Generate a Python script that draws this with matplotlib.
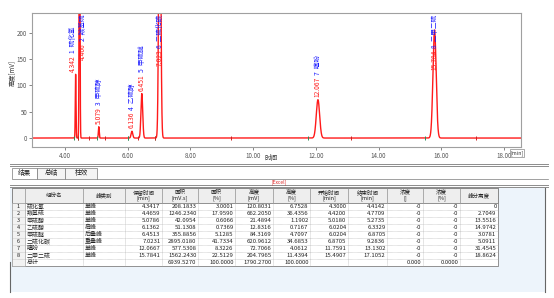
"""
plot.py

Chromatogram with peak labels and the peak result table below it.
"""

import numpy as np
import matplotlib
matplotlib.use("Agg")
import matplotlib.pyplot as plt
from matplotlib.patches import Rectangle

plt.rcParams['font.family'] = ['Noto Sans CJK SC', 'DejaVu Sans']

# peak table (as printed in the result grid)
names = ['硫化氢', '羰基硫', '甲硫醇', '乙硫醇', '甲硫醚', '二硫化碳', '噻吩', '二甲二硫']
peak_types = ['单峰', '单峰', '单峰', '肩峰', '后叠峰', '重叠峰', '单峰', '单峰']
ret_time = [4.3417, 4.4659, 5.0786, 6.1362, 6.4513, 7.0231, 12.0667, 15.7841]
area = [208.1833, 1246.2340, 42.0954, 51.1308, 355.8856, 2895.0180, 577.5308, 1562.2430]
area_pct = [3.0001, 17.9590, 0.6066, 0.7369, 5.1285, 41.7334, 8.3226, 22.5129]
height = [120.8031, 662.2050, 21.4894, 12.8316, 84.3169, 620.9612, 72.7066, 204.7965]
height_pct = [6.7528, 36.4356, 1.1902, 0.7167, 4.7097, 34.6853, 4.0612, 11.4394]
t_start = [4.3000, 4.4200, 5.0180, 6.0204, 6.0204, 6.8705, 11.7591, 15.4907]
t_end = [4.4142, 4.7709, 5.2735, 6.3329, 6.8705, 9.2836, 13.1302, 17.1052]
conc = ['-0'] * 8
conc_pct = ['-0'] * 8
resolution = ['0', '2.7049', '13.5516', '14.9742', '3.0781', '5.0911', '31.4545', '18.8624']
# total row, from the 保留时间 column onwards
totals = ['', '6939.5270', '100.0000', '1790.2700', '100.0000',
          '', '', '0.000', '0.0000', '']

headers = ['', '组份名', '峰类别', '保留时间\n[min]', '面积\n[mV.s]', '面积\n[%]',
           '高度\n[mV]', '高度\n[%]', '开始时间\n[min]', '结束时间\n[min]',
           '浓度\n[]', '浓度\n[%]', '峰分离度']
tabs = ['结果', '总结', '柱效']

RED = '#ff1a1a'
BLUE = '#1a1aff'
GRID = '#a8a8a8'
W, H = 554, 298

fig = plt.figure(figsize=(W / 100, H / 100), dpi=100)

# pixel-space overlay for the window chrome and the table
ui = fig.add_axes([0, 0, 1, 1])
ui.set_xlim(0, W)
ui.set_ylim(H, 0)
ui.axis('off')

# ---- chromatogram ----
ax = fig.add_axes([32 / W, 1 - 147 / H, (521 - 32) / W, (147 - 13) / H])
xmin, xmax, ymin, ymax = 2.95, 18.54, -17, 237

t = np.linspace(xmin, xmax, 8000)
signal = np.zeros_like(t)
for rt, a, h in zip(ret_time, area, height):
    sigma = a / (h * 60 * np.sqrt(2 * np.pi))
    signal += h * np.exp(-0.5 * ((t - rt) / sigma) ** 2)
ax.plot(t, signal, color=RED, lw=1.0)

ax.plot(t_start, np.zeros(len(t_start)), ls='none', marker='|', ms=2.5,
        mew=0.7, color='#2e8b57')
ax.plot(t_end, np.zeros(len(t_end)), ls='none', marker='|', ms=2.5,
        mew=0.7, color='#cc2222')

ax.set_xlim(xmin, xmax)
ax.set_ylim(ymin, ymax)
ax.set_xticks(np.arange(4, 19, 2))
ax.set_xticklabels([f'{v:.2f}' for v in np.arange(4, 19, 2)])
ax.set_yticks(np.arange(0, 201, 50))
ax.tick_params(labelsize=4.5, length=2, width=0.5, colors='#555555', pad=1.5)
for s in ax.spines.values():
    s.set_color('#a0a0a0')
    s.set_linewidth(0.8)

# vertical peak labels: red retention time, blue index + name
fs = 4.8
n = len(ret_time)
for i, (rt, h, name) in enumerate(zip(ret_time, height, names)):
    num = f'{rt:.3f}'
    tag = f'{i + 1}  {name}'
    # push neighbouring labels apart when two peaks nearly coincide
    dx = 0.0
    if i + 1 < n and ret_time[i + 1] - rt < 0.2:
        dx -= 1.8
    if i > 0 and rt - ret_time[i - 1] < 0.2:
        dx += 2.2
    if h + 110 > ymax:
        top = ax.annotate(tag, xy=(rt, ymax), xytext=(dx, -1),
                          textcoords='offset points', rotation=90,
                          ha='center', va='top', color=BLUE, fontsize=fs)
        ax.annotate(num, xy=(0.5, 0), xycoords=top, xytext=(0, -1.5),
                    textcoords='offset points', rotation=90, ha='center',
                    va='top', color=RED, fontsize=fs)
    else:
        low = ax.annotate(num, xy=(rt, h), xytext=(dx, 2),
                          textcoords='offset points', rotation=90,
                          ha='center', va='bottom', color=RED, fontsize=fs)
        ax.annotate(tag, xy=(0.5, 1), xycoords=low, xytext=(0, 1.5),
                    textcoords='offset points', rotation=90, ha='center',
                    va='bottom', color=BLUE, fontsize=fs)

fig.text(12 / W, 1 - 73 / H, '高度[mV]', rotation=90, ha='center', va='center',
         fontsize=4.5, color='#333333')
fig.text(271 / W, 1 - 158 / H, '时间', ha='center', va='center',
         fontsize=4.8, color='#333333')
fig.text(517 / W, 1 - 153 / H, '[min]', ha='center', va='center', fontsize=3.8,
         color='#333333',
         bbox=dict(boxstyle='square,pad=0.15', fc='white', ec='#888888', lw=0.5))

# ---- result panel ----
for y in (164, 166):
    ui.plot([10, 548], [y, y], color='#8c8c8c', lw=0.7)

tab_edges = [12, 37, 65, 97]
for k, label in enumerate(tabs):
    x0, x1 = tab_edges[k], tab_edges[k + 1]
    ui.add_patch(Rectangle((x0, 168), x1 - x0, 11,
                           fc='white' if k == 0 else '#f4f4f4',
                           ec='#7a7a7a', lw=0.5))
    ui.text((x0 + x1) / 2, 173.5, label, ha='center', va='center',
            fontsize=4.8, color='#222222')
ui.plot([97, 548], [179, 179], color='#7a7a7a', lw=0.5)
ui.text(279, 182.5, '[Excel]', ha='center', va='center', fontsize=3.5,
        color='#dd2222')
for y in (185, 187):
    ui.plot([10, 548], [y, y], color='#8c8c8c', lw=0.7)

ui.add_patch(Rectangle((10, 188), 535, 104, fc='#edf4fb', ec='none'))
ui.plot([545, 545], [188, 292], color='#666666', lw=0.8)
ui.plot([10, 10], [262, 292], color='#666666', lw=0.8)

col_edges = [12, 25, 83, 125, 162, 198, 235, 273, 310, 348, 387, 423, 460, 498]
head_top, head_bot, row_h = 188, 203, 7
n_rows = len(names) + 1
tab_bot = head_bot + row_h * n_rows
tab_w = col_edges[-1] - col_edges[0]

ui.add_patch(Rectangle((col_edges[0], head_top), tab_w, tab_bot - head_top,
                       fc='white', ec='#808080', lw=0.6))
ui.add_patch(Rectangle((col_edges[0], head_top), tab_w, head_bot - head_top,
                       fc='#eeeeee', ec='#808080', lw=0.6))
ui.add_patch(Rectangle((col_edges[0], head_bot), col_edges[1] - col_edges[0],
                       tab_bot - head_bot, fc='#f2f2f2', ec='#a0a0a0', lw=0.4))

for x in col_edges[1:-1]:
    ui.plot([x, x], [head_top, head_bot], color='#909090', lw=0.5)
    ui.plot([x, x], [head_bot, tab_bot], color=GRID, lw=0.4, ls=(0, (1, 1)))
for r in range(1, n_rows):
    y = head_bot + r * row_h
    ui.plot([col_edges[0], col_edges[-1]], [y, y], color=GRID, lw=0.4,
            ls=(0, (1, 1)))

for c, label in enumerate(headers):
    ui.text((col_edges[c] + col_edges[c + 1]) / 2, (head_top + head_bot) / 2,
            label, ha='center', va='center', fontsize=4.0, color='#222222',
            linespacing=1.05)

rows = []
for i in range(len(names)):
    rows.append([str(i + 1), names[i], peak_types[i], f'{ret_time[i]:.4f}',
                 f'{area[i]:.4f}', f'{area_pct[i]:.4f}', f'{height[i]:.4f}',
                 f'{height_pct[i]:.4f}', f'{t_start[i]:.4f}', f'{t_end[i]:.4f}',
                 conc[i], conc_pct[i], resolution[i]])
rows.append(['', '总计', ''] + totals)

for r, cells in enumerate(rows):
    yc = head_bot + r * row_h + row_h / 2
    for c, val in enumerate(cells):
        if not val:
            continue
        x0, x1 = col_edges[c], col_edges[c + 1]
        if c == 0:
            ui.text((x0 + x1) / 2, yc, val, ha='center', va='center',
                    fontsize=4.0, color='#222222')
        elif c in (1, 2):
            ui.text(x0 + 1.5, yc, val, ha='left', va='center', fontsize=4.3,
                    color='#222222')
        else:
            ui.text(x1 - 1.5, yc, val, ha='right', va='center', fontsize=4.3,
                    color='#222222')

fig.savefig('out.png', dpi=100)
